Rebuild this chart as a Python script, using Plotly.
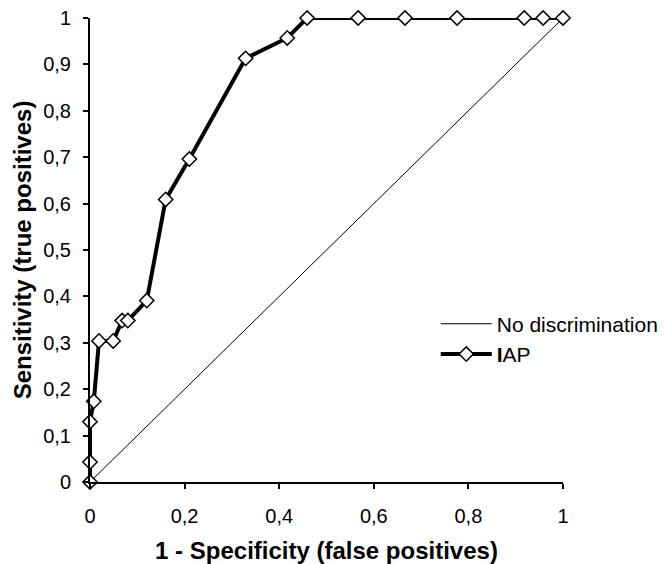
import plotly.graph_objects as go

fpr = [0, 0, 0, 0.008, 0.019, 0.049, 0.068, 0.080, 0.120, 0.160, 0.210, 0.329, 0.417, 0.459,
       0.567, 0.666, 0.776, 0.918, 0.958, 1.0]
tpr = [0, 0.043, 0.130, 0.174, 0.304, 0.304, 0.348, 0.348, 0.391, 0.609, 0.696, 0.913, 0.957, 1.0,
       1.0, 1.0, 1.0, 1.0, 1.0, 1.0]
diag_x = [0, 1]
diag_y = [0, 1]
ytick_vals = [0, 0.1, 0.2, 0.3, 0.4, 0.5, 0.6, 0.7, 0.8, 0.9, 1]
ytick_text = ["0", "0,1", "0,2", "0,3", "0,4", "0,5", "0,6", "0,7", "0,8", "0,9", "1"]
xtick_vals = [0, 0.2, 0.4, 0.6, 0.8, 1]
xtick_text = ["0", "0,2", "0,4", "0,6", "0,8", "1"]

fig = go.Figure()
fig.add_trace(go.Scatter(x=diag_x, y=diag_y, mode="lines", name="No discrimination",
                         line=dict(color="black", width=1), cliponaxis=False))
fig.add_trace(go.Scatter(x=fpr, y=tpr, mode="lines+markers", name="<b>I</b>AP",
                         line=dict(color="black", width=4),
                         marker=dict(symbol="diamond", size=11, color="white",
                                     line=dict(color="black", width=1.5)),
                         cliponaxis=False))

font = "Liberation Sans, Arial, sans-serif"
fig.update_layout(
    width=664, height=564,
    margin=dict(l=90, r=101, t=18, b=82, autoexpand=False),
    paper_bgcolor="white", plot_bgcolor="white",
    font=dict(family=font, size=21, color="black"),
    showlegend=True,
    legend=dict(x=0.731, y=0.308, xanchor="left", yanchor="middle", itemwidth=51,
                bgcolor="rgba(0,0,0,0)", font=dict(size=21), tracegroupgap=0),
    xaxis=dict(range=[0, 1], tickvals=xtick_vals, ticktext=xtick_text, automargin=False,
               showline=True, linecolor="black", linewidth=2, showgrid=False, zeroline=False,
               ticks="outside", ticklen=5, tickcolor="black", tickwidth=1.5, ticklabelstandoff=10,
               tickfont=dict(size=20),
               title=dict(text="<b>1 - Specificity (false positives)</b>", font=dict(size=24), standoff=16)),
    yaxis=dict(range=[0, 1], tickvals=ytick_vals, ticktext=ytick_text, automargin=False,
               showline=True, linecolor="black", linewidth=2, showgrid=False, zeroline=False,
               ticks="outside", ticklen=5, tickcolor="black", tickwidth=1.5, ticklabelstandoff=8,
               tickfont=dict(size=20),
               title=dict(text="<b>Sensitivity (true positives)</b>", font=dict(size=24), standoff=5)),
)
fig.write_html("out.html", config={"displayModeBar": False},
               post_script="document.body.style.margin='0';document.body.style.overflow='hidden';")
